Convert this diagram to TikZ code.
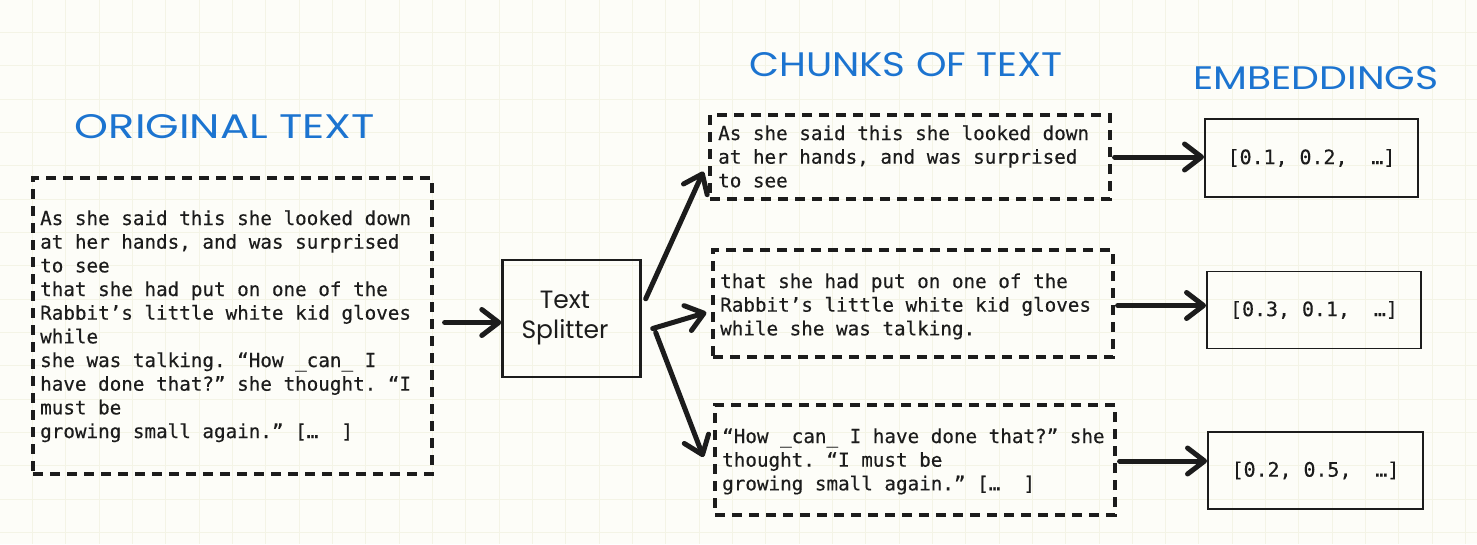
\documentclass[tikz,border=0pt]{standalone}
\usepackage{fontspec}
\usepackage{graphicx}
\usetikzlibrary{arrows.meta,calc}
\newfontfamily\monofnt[FakeBold=0.4]{DejaVu Sans Mono}
\newfontfamily\handfnt{Poppins}
\definecolor{bgcol}{RGB}{253,253,248}
\definecolor{gridcol}{RGB}{244,244,230}
\definecolor{headblue}{RGB}{28,116,208}
\definecolor{inkcol}{RGB}{28,28,28}
\tikzset{
  dbox/.style={draw=inkcol, line width=3.2pt, dash pattern=on 10pt off 7pt, inner sep=0pt},
  sbox/.style={draw=inkcol, line width=2.4pt, inner sep=0pt},
  ebox/.style={draw=inkcol, line width=1.9pt, inner sep=0pt, font=\monofnt\frenchspacing\fontsize{19.9}{24}\selectfont, text=inkcol},
  monotxt/.style={anchor=base west, inner sep=0pt, text=inkcol, font=\monofnt\frenchspacing\fontsize{19.25}{23.67}\selectfont},
  heading/.style={inner sep=0pt, text=headblue},
  arr/.style={draw=inkcol, line width=5pt, line cap=round, -{Straight Barb[length=17pt, width=26pt, round]}},
}
\begin{document}
\begin{tikzpicture}[x=1pt,y=-1pt]
\fill[bgcol] (0,0) rectangle (1477,544);
\useasboundingbox (0,0) rectangle (1477,544);
\foreach \i in {0,...,44} {\draw[gridcol, line width=0.8pt] ({-1+33.33*\i},0) -- ({-1+33.33*\i},544);}
\foreach \j in {0,...,16} {\draw[gridcol, line width=0.8pt] (0,{-1+33.33*\j}) -- (1477,{-1+33.33*\j});}

% headings
\node[heading] (hOrig) at (225,127) {\resizebox{300pt}{24pt}{\handfnt ORIGINAL TEXT}};
\node[heading] (hChunks) at (906,65) {\resizebox{313pt}{24pt}{\handfnt CHUNKS OF TEXT}};
\node[heading] (hEmb) at (1316,78) {\resizebox{245pt}{23pt}{\handfnt EMBEDDINGS}};

% original text box
\node[dbox, minimum width=399pt, minimum height=296pt] (orig) at (232.5,326) {};
\node[monotxt] (origtxt) at (40,225) {\parbox[t]{420pt}{%
As she said this she looked down\\
at her hands, and was surprised\\
to see\\
that she had put on one of the\\
Rabbit’s little white kid gloves\\
while\\
she was talking. “How \_can\_ I\\
have done that?” she thought. “I\\
must be\\
growing small again.” […\ \ ]}};

% splitter
\node[sbox, minimum width=138pt, minimum height=117pt] (split) at (571.5,318.5) {};
\node[inner sep=0pt, text=inkcol, font=\handfnt\fontsize{25}{30}\selectfont, align=center] (splittxt) at (565,318) {Text\\Splitter};

% chunks
\node[dbox, minimum width=400pt, minimum height=84pt] (chunk1) at (910,157) {};
\node[monotxt] (c1txt) at (718,140) {\parbox[t]{420pt}{%
As she said this she looked down\\
at her hands, and was surprised\\
to see}};

\node[dbox, minimum width=400pt, minimum height=107pt] (chunk2) at (913,303.5) {};
\node[monotxt] (c2txt) at (720,288) {\parbox[t]{420pt}{%
that she had put on one of the\\
Rabbit’s little white kid gloves\\
while she was talking.}};

\node[dbox, minimum width=400pt, minimum height=110pt] (chunk3) at (915,460) {};
\node[monotxt] (c3txt) at (722,443) {\parbox[t]{420pt}{%
“How \_can\_ I have done that?” she\\
thought. “I must be\\
growing small again.” […\ \ ]}};

% embeddings
\node[ebox, minimum width=213pt, minimum height=78pt] (emb1) at (1311.5,158) {[0.1, 0.2,\ \ …]};
\node[ebox, minimum width=214pt, minimum height=77pt] (emb2) at (1314,310) {[0.3, 0.1,\ \ …]};
\node[ebox, minimum width=215pt, minimum height=77pt] (emb3) at (1315.5,470.5) {[0.2, 0.5,\ \ …]};

% connectors
\draw[arr] ($(split.west -| orig.east)+(11,4)$) -- ($(split.west)+(0,4)$);
\draw[arr] ($(split.north east)+(4,40)$) -- ($(chunk1.south west)+(-5,-29)$);
\draw[arr] ($(split.east)+(11,10)$) -- ($(chunk2.west)+(-5,9)$);
\draw[arr] ($(split.east)+(14,14)$) -- ($(chunk3.west)+(-10,-3)$);
\draw[arr] ($(chunk1.east)+(3,0)$) -- ($(emb1.west)+(0,-1)$);
\draw[arr] ($(chunk2.east)+(3,2)$) -- ($(emb2.west)+(0,-4.5)$);
\draw[arr] ($(chunk3.east)+(3,1)$) -- ($(emb3.west)+(0,-9.5)$);
\end{tikzpicture}
\end{document}
